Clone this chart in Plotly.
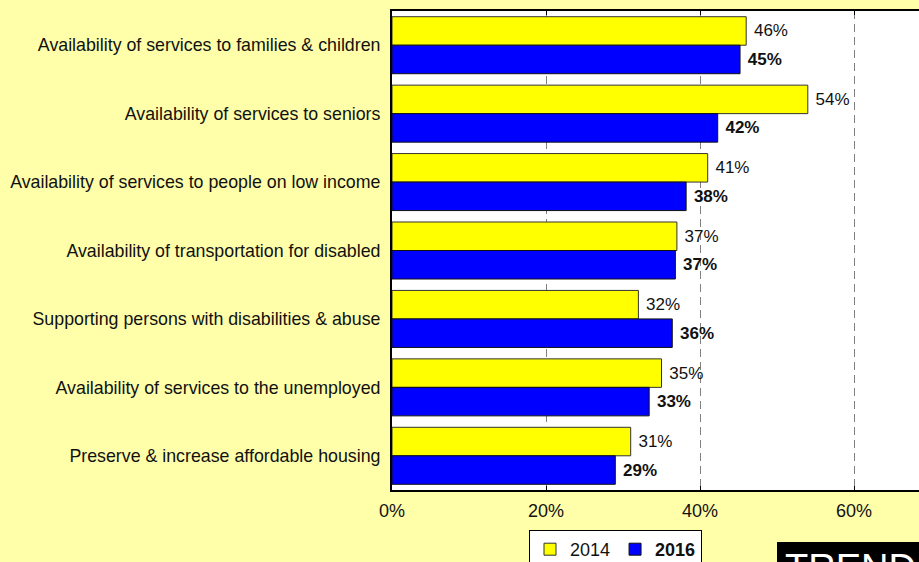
import plotly.graph_objects as go

categories = [
    "Availability of services to families & children",
    "Availability of services to seniors",
    "Availability of services to people on low income",
    "Availability of transportation for disabled",
    "Supporting persons with disabilities & abuse",
    "Availability of services to the unemployed",
    "Preserve & increase affordable housing",
]
values_2014 = [46, 54, 41, 37, 32, 35, 31]
values_2016 = [45.2, 42.3, 38.2, 36.8, 36.4, 33.4, 29.0]
tick_vals = [0, 20, 40, 60]
tick_text = ["0%", "20%", "40%", "60%"]

FONT = "Liberation Sans, Arial, sans-serif"
W, H = 919, 562
L, R, T, B = 392, 0, 11, 72
PW, PH = W - L - R, H - T - B
PX_PER_PCT = 7.7
XMAX = PW / PX_PER_PCT

def px_x(px):
    return (px - L) / PW

def px_y(py):
    return (H - B - py) / PH

fig = go.Figure()
fig.add_trace(go.Bar(
    y=categories, x=values_2014, orientation="h", name="2014",
    marker=dict(color="#FFFF00", line=dict(color="#333333", width=1)),
    text=[f"\u00a0{round(v)}%" for v in values_2014], textposition="outside",
    textfont=dict(family=FONT, size=17, color="#111111"), cliponaxis=False,
))
fig.add_trace(go.Bar(
    y=categories, x=values_2016, orientation="h", name="<b>2016</b>",
    marker=dict(color="#0000FF", line=dict(color="#111111", width=1)),
    text=[f"\u00a0<b>{round(v)}%</b>" for v in values_2016], textposition="outside",
    textfont=dict(family=FONT, size=17, color="#111111"), cliponaxis=False,
))

fig.update_layout(
    width=W, height=H,
    margin=dict(l=L, r=R, t=T, b=B, pad=0, autoexpand=False),
    paper_bgcolor="#FFFFAA", plot_bgcolor="#FFFFFF",
    barmode="group", bargap=0.167, bargroupgap=0,
    font=dict(family=FONT, size=17, color="#111111"),
    showlegend=True,
    legend=dict(
        orientation="h", x=px_x(529), y=px_y(530), xanchor="left", yanchor="top",
        bgcolor="#FFFFFF", bordercolor="#000000", borderwidth=1,
        font=dict(family=FONT, size=18, color="#111111"),
        itemwidth=30, tracegroupgap=0,
    ),
)
fig.update_xaxes(
    range=[0, XMAX], tickvals=tick_vals, ticktext=tick_text,
    showgrid=True, gridcolor="#808080", griddash="8px,5px", gridwidth=1,
    zeroline=False, showline=True, linecolor="#000000", linewidth=2,
    mirror="allticks", ticks="inside", ticklen=4, tickcolor="#000000",
    ticklabelstandoff=3,
    tickfont=dict(family=FONT, size=18, color="#111111"),
    fixedrange=True,
)
fig.update_yaxes(
    autorange="reversed", showline=True, linecolor="#000000", linewidth=2,
    mirror=False, ticks="", ticklabelstandoff=6, showgrid=False,
    tickfont=dict(family=FONT, size=17.8, color="#111111"),
)

# TREND box at bottom right
fig.add_shape(type="rect", xref="paper", yref="paper",
              x0=px_x(777), x1=px_x(940), y0=px_y(600), y1=px_y(542),
              fillcolor="#000000", line=dict(width=0), layer="above")
fig.add_annotation(text="TREND", xref="paper", yref="paper",
                   x=px_x(783), y=px_y(545), xanchor="left", yanchor="top",
                   showarrow=False, font=dict(family=FONT, size=38, color="#FFFFFF"))

fig.write_html("out.html")
